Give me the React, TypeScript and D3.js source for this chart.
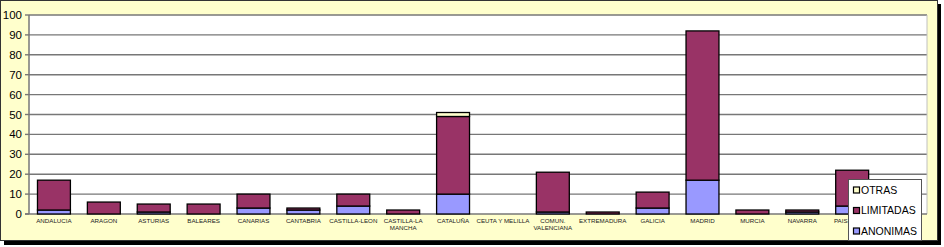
import React from "react";
import * as d3 from "d3";

const categories = [
  "ANDALUCIA", "ARAGON", "ASTURIAS", "BALEARES", "CANARIAS", "CANTABRIA",
  "CASTILLA-LEON", "CASTILLA-LA MANCHA", "CATALUÑA", "CEUTA Y MELILLA",
  "COMUN. VALENCIANA", "EXTREMADURA", "GALICIA", "MADRID", "MURCIA",
  "NAVARRA", "PAIS VASCO", "LA RIOJA",
];
const labelLines = [
  ["ANDALUCIA"], ["ARAGON"], ["ASTURIAS"], ["BALEARES"], ["CANARIAS"], ["CANTABRIA"],
  ["CASTILLA-LEON"], ["CASTILLA-LA", "MANCHA"], ["CATALUÑA"], ["CEUTA Y MELILLA"],
  ["COMUN.", "VALENCIANA"], ["EXTREMADURA"], ["GALICIA"], ["MADRID"], ["MURCIA"],
  ["NAVARRA"], ["PAIS VASCO"], ["LA RIOJA"],
];
const anonimas = [2, 0, 1, 0, 3, 2, 4, 0, 10, 0, 1, 0, 3, 17, 0, 1, 4, 1];
const limitadas = [15, 6, 4, 5, 7, 1, 6, 2, 39, 0, 20, 1, 8, 75, 2, 1, 18, 1];
const otras = [0, 0, 0, 0, 0, 0, 0, 0, 2, 0, 0, 0, 0, 0, 0, 0, 0, 0];
const yTicks = [0, 10, 20, 30, 40, 50, 60, 70, 80, 90, 100];

const seriesNames = ["ANONIMAS", "LIMITADAS", "OTRAS"];
const seriesColors = ["#9999FF", "#993366", "#FFFFCC"];

export default function App() {
  const W = 944, H = 247;
  const left = 29, right = 927, top = 15, bottom = 214;
  const x = d3.scaleBand<string>().domain(categories).range([left, right]).paddingInner(0.34).paddingOuter(0.17);
  const y = d3.scaleLinear().domain([0, 100]).range([bottom, top]);

  const rows = categories.map((c, i) => ({ cat: c, ANONIMAS: anonimas[i], LIMITADAS: limitadas[i], OTRAS: otras[i] }));
  const stacked = d3.stack<any>().keys(seriesNames)(rows);

  const font = "Arial, 'Liberation Sans', sans-serif";
  return (
    <svg width={W} height={H} style={{ position: "absolute", left: 0, top: 0 }} fontFamily={font}>
      <rect x={4} y={4} width={937} height={241} fill="#000" />
      <rect x={0.5} y={0.5} width={937} height={240} fill="#FFFFCC" stroke="#333" strokeWidth={1} />
      <rect x={left} y={top} width={right - left} height={bottom - top} fill="#fff" />
      {yTicks.map((t) => (
        <g key={t}>
          {t > 0 && <line x1={left} x2={right} y1={y(t)} y2={y(t)} stroke="#777" strokeWidth={1.4} />}
          <line x1={left - 4} x2={left} y1={y(t)} y2={y(t)} stroke="#777" strokeWidth={1.4} />
          <text x={left - 7} y={y(t)} dy="0.35em" textAnchor="end" fontSize={11.5} fill="#000">{t}</text>
        </g>
      ))}
      <line x1={right} x2={right} y1={top} y2={bottom} stroke="#c0c0c0" strokeWidth={1} />
      <line x1={left} x2={left} y1={top} y2={bottom} stroke="#777" strokeWidth={1.5} />
      <line x1={left - 4} x2={right} y1={bottom} y2={bottom} stroke="#777" strokeWidth={1.5} />
      {stacked.map((s, si) => (
        <g key={s.key}>
          {s.map((d, i) => {
            const h = y(d[0]) - y(d[1]);
            if (h <= 0) return null;
            return (
              <rect key={i} x={x(categories[i])!} y={y(d[1])} width={x.bandwidth()} height={h}
                fill={seriesColors[si]} stroke="#000" strokeWidth={1.3} />
            );
          })}
        </g>
      ))}
      {categories.map((c, i) => (
        <text key={c} x={x(c)! + x.bandwidth() / 2} y={bottom + 9} textAnchor="middle" fontSize={6.2} fill="#222">
          {labelLines[i].map((l, j) => (
            <tspan key={j} x={x(c)! + x.bandwidth() / 2} dy={j === 0 ? 0 : 7}>{l}</tspan>
          ))}
        </text>
      ))}
      <g>
        <rect x={848.5} y={179.5} width={73} height={61} fill="#fff" stroke="#555" strokeWidth={1} />
        {[2, 1, 0].map((si, k) => {
          const ly = 190 + k * 20.5;
          return (
            <g key={si}>
              <rect x={853.5} y={ly - 3} width={6} height={6} fill={seriesColors[si]} stroke="#000" strokeWidth={1.2} />
              <text x={861} y={ly} dy="0.35em" fontSize={10.5} fill="#000">{seriesNames[si]}</text>
            </g>
          );
        })}
      </g>
    </svg>
  );
}
